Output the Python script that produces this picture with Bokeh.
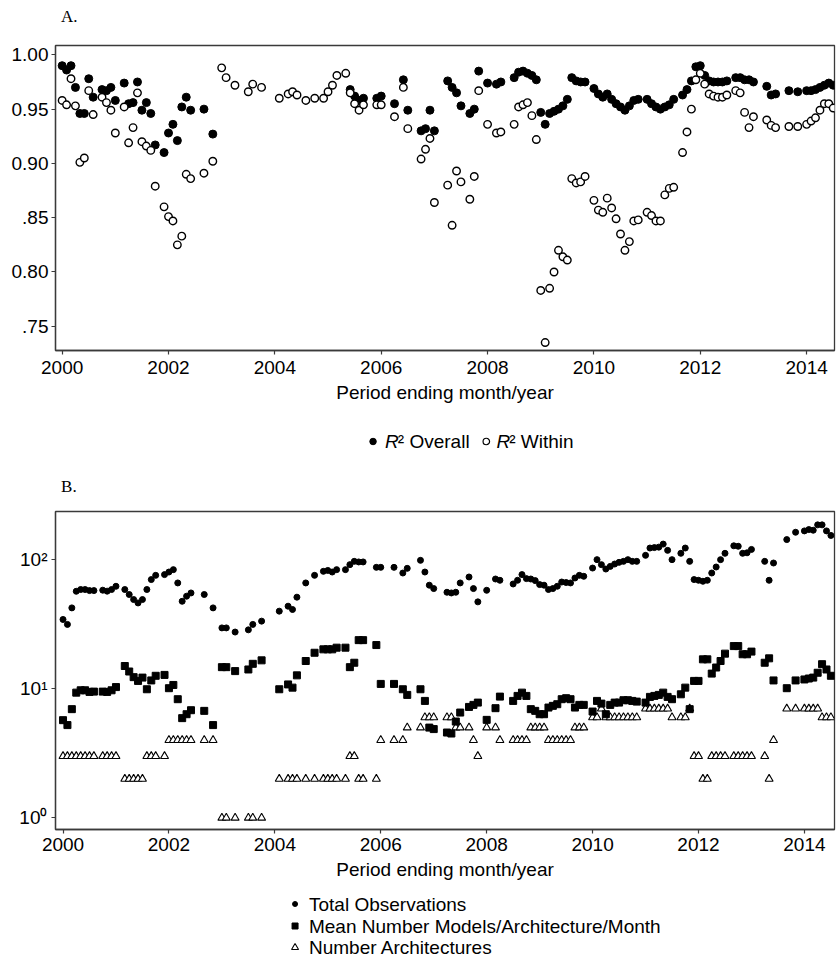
from bokeh.plotting import figure
from bokeh.layouts import column
from bokeh.models import Range1d, FixedTicker
from bokeh.core.properties import value
from bokeh.embed import file_html
from bokeh.resources import INLINE

FONT = "Liberation Sans"
SERIF = "Liberation Serif"

# ---------------- Panel A data (month index since Jan 2000) ----------------
overall_months = [0, 1, 2, 3, 4, 5, 6, 7, 9, 10, 11, 12, 14, 15, 16, 17, 18, 19, 20, 21, 23, 24, 25, 26, 27, 28, 29, 32, 34,
                  65, 66, 67, 68, 71, 72, 75, 77, 78, 81, 82, 83, 84, 87, 88, 89, 90, 92, 93, 94, 96, 98, 99,
                  102, 103, 104, 105, 106, 107, 108, 109, 110, 111, 112, 113, 114, 115, 116, 117, 118,
                  120, 121, 122, 123, 124, 125, 126, 127, 128, 129, 130, 132, 133, 134, 135, 136, 137, 138,
                  140, 141, 142, 143, 144, 145, 146, 147, 148, 149, 150, 152, 153, 154, 155, 156,
                  159, 160, 161, 164, 166, 168, 169, 170, 171, 172, 173, 174]
overall_r2 = [0.990, 0.986, 0.990, 0.970, 0.946, 0.946, 0.978, 0.961, 0.968, 0.967, 0.970, 0.958, 0.974, 0.955, 0.956,
              0.975, 0.949, 0.956, 0.946, 0.917, 0.910, 0.928, 0.936, 0.921, 0.952, 0.961, 0.949, 0.950, 0.927,
              0.968, 0.962, 0.958, 0.960, 0.960, 0.962, 0.955, 0.977, 0.949, 0.930, 0.932, 0.949, 0.930,
              0.976, 0.970, 0.965, 0.953, 0.946, 0.950, 0.985, 0.974, 0.973, 0.975,
              0.979, 0.984, 0.985, 0.983, 0.981, 0.977, 0.947, 0.936, 0.946, 0.948, 0.950, 0.953, 0.959, 0.979,
              0.976, 0.975, 0.975,
              0.969, 0.964, 0.961, 0.964, 0.959, 0.955, 0.952, 0.949, 0.953, 0.958, 0.959, 0.959, 0.955, 0.952,
              0.950, 0.952, 0.954, 0.959,
              0.963, 0.968, 0.976, 0.989, 0.990, 0.981, 0.976, 0.975, 0.975, 0.975, 0.976, 0.979, 0.979, 0.977,
              0.977, 0.975,
              0.971, 0.963, 0.964, 0.967, 0.966, 0.967, 0.967, 0.968, 0.970, 0.972, 0.974, 0.972]

within_months = [0, 1, 2, 3, 4, 5, 6, 7, 9, 10, 11, 12, 14, 15, 16, 17, 18, 19, 20, 21, 23, 24, 25, 26, 27, 28, 29, 32, 34,
                 36, 37, 39, 42, 43, 45, 49, 51, 52, 53, 55, 57, 59, 60, 61, 62, 64,
                 65, 66, 67, 68, 71, 72, 75, 77, 78, 81, 82, 83, 84, 87, 88, 89, 90, 92, 93, 94, 96, 98, 99,
                 102, 103, 104, 105, 106, 107, 108, 109, 110, 111, 112, 113, 114, 115, 116, 117, 118,
                 120, 121, 122, 123, 124, 125, 126, 127, 128, 129, 130, 132, 133, 134, 135, 136, 137, 138,
                 140, 141, 142, 143, 144, 145, 146, 147, 148, 149, 150, 152, 153, 154, 155, 156,
                 159, 160, 161, 164, 166, 168, 169, 170, 171, 172, 173, 174]
within_r2 = [0.958, 0.954, 0.978, 0.953, 0.901, 0.905, 0.967, 0.945, 0.961, 0.956, 0.949, 0.928, 0.952, 0.919, 0.933,
             0.965, 0.920, 0.916, 0.912, 0.879, 0.860, 0.851, 0.847, 0.825, 0.833, 0.890, 0.886, 0.891, 0.902,
             0.988, 0.979, 0.972, 0.966, 0.973, 0.970, 0.960, 0.964, 0.966, 0.963, 0.958, 0.960, 0.960, 0.966,
             0.972, 0.981, 0.983,
             0.965, 0.955, 0.949, 0.954, 0.954, 0.954, 0.943, 0.970, 0.932, 0.904, 0.913, 0.923, 0.864,
             0.880, 0.843, 0.893, 0.883, 0.867, 0.888, 0.967, 0.936, 0.928, 0.929,
             0.936, 0.952, 0.954, 0.956, 0.944, 0.922, 0.783, 0.735, 0.785, 0.800, 0.820, 0.814, 0.811, 0.886,
             0.882, 0.883, 0.888,
             0.866, 0.857, 0.855, 0.868, 0.859, 0.849, 0.835, 0.820, 0.828, 0.847, 0.848, 0.855, 0.852, 0.847,
             0.847, 0.871, 0.877, 0.878,
             0.910, 0.929, 0.950, 0.977, 0.983, 0.973, 0.964, 0.962, 0.961, 0.961, 0.963, 0.967, 0.965, 0.947,
             0.933, 0.943,
             0.940, 0.935, 0.933, 0.934, 0.934, 0.936, 0.939, 0.942, 0.949, 0.955, 0.955, 0.951]

# ---------------- Panel B data ----------------
obs_months = [0, 1, 2, 3, 4, 5, 6, 7, 9, 10, 11, 12, 14, 15, 16, 17, 18, 19, 20, 21, 23, 24, 25, 26, 27, 28, 29, 32, 34,
              36, 37, 39, 42, 43, 45, 49, 51, 52, 53, 55, 57, 59, 60, 61, 62, 64, 65, 66, 67, 68, 71, 72, 75, 77, 78,
              81, 82, 83, 84, 87, 88, 89, 90, 92, 93, 94, 96, 98, 99,
              102, 103, 104, 105, 106, 107, 108, 109, 110, 111, 112, 113, 114, 115, 116, 117, 118,
              120, 121, 122, 123, 124, 125, 126, 127, 128, 129, 130, 132, 133, 134, 135, 136, 137, 138,
              140, 141, 142, 143, 144, 145, 146, 147, 148, 149, 150, 152, 153, 154, 155, 156,
              159, 160, 161, 164, 166, 168, 169, 170, 171, 172, 173, 174]
total_obs = [34.4, 31.5, 42.3, 56.9, 58.7, 58.7, 57.6, 57.6, 58.0, 57.0, 58.7, 62.2, 58.7, 53.7, 49.1, 46.2, 49.1, 58.7,
             70.1, 75.6, 76.6, 80.2, 83.7, 66.0, 47.6, 52.1, 55.2, 53.7, 42.3,
             29.6, 29.6, 27.5, 28.6, 31.5, 33.4, 39.9, 43.6, 41.1, 51.2, 66.0, 75.6, 81.2, 82.5, 80.2, 83.7, 83.7,
             91.5, 97.0, 96.0, 96.0, 87.2, 87.2, 87.2, 78.8, 85.6,
             98.8, 80.2, 63.4, 59.7, 55.9, 55.2, 55.9, 66.0, 73.4, 59.7, 47.1, 57.9, 70.8, 69.2,
             64.8, 69.2, 76.6, 71.3, 70.8, 68.8, 64.1, 63.4, 58.7, 59.7, 62.2, 67.1, 66.5, 66.0, 72.1, 75.6, 74.3,
             86.1, 100, 91.5, 84.6, 88.7, 92.5, 95.3, 97.0, 100, 97.0, 97.0, 108, 123, 124, 125, 132, 118, 100,
             112, 123, 97, 70.1, 69.2, 68.0, 69.2, 78.8, 87.7, 100, 112, 128, 127, 112, 113, 120,
             97, 69.2, 94.2, 143, 163, 167, 171, 169, 186, 186, 167, 154]

models_months = obs_months
mean_models = [5.71, 5.23, 6.95, 9.33, 9.73, 9.73, 9.45, 9.5, 9.5, 9.45, 9.73, 10.3, 15.0, 13.6, 12.3, 11.5, 12.2, 9.91,
               11.6, 12.6, 12.8, 10.1, 10.7, 8.3, 5.92, 6.35, 6.82, 6.74, 5.23,
               14.7, 14.7, 13.7, 14.1, 15.6, 16.6, 9.91, 10.8, 10.2, 12.7, 16.4, 19.0, 20.2, 20.2, 20.2, 20.8, 20.8,
               14.7, 15.9, 23.8, 23.8, 21.8, 10.9, 10.9, 9.91, 8.96,
               9.91, 8.05, 5.0, 4.87, 4.58, 4.5, 5.57, 6.54, 7.23, 7.5, 7.81, 5.74, 7.07, 8.69,
               8.05, 8.8, 9.33, 8.8, 6.95, 6.74, 6.35, 6.35, 7.15, 7.37, 7.59, 8.3, 8.45, 8.3, 7.15, 7.5, 7.5,
               6.66, 8.05, 7.67, 6.35, 7.5, 7.81, 7.81, 8.15, 8.15, 8.05, 7.95, 7.81, 8.65, 8.8, 8.96, 9.33, 8.65, 8.3,
               9.06, 10.2, 6.95, 11.5, 11.5, 16.9, 16.9, 13.1, 14.6, 16.4, 18.7, 21.4, 21.4, 18.5, 18.5, 19.4,
               15.9, 17.2, 11.6, 10.1, 11.6, 11.8, 12.0, 12.2, 13.3, 15.5, 14.1, 12.6]

arch_months = obs_months
num_arch = [3, 3, 3, 3, 3, 3, 3, 3, 3, 3, 3, 3, 2, 2, 2, 2, 2, 3, 3, 3, 3, 4, 4, 4, 4, 4, 4, 4, 4,
            1, 1, 1, 1, 1, 1, 2, 2, 2, 2, 2, 2, 2, 2, 2, 2, 2, 3, 3, 2, 2, 2, 4, 4, 4, 5,
            5, 6, 6, 6, 6, 6, 5, 5, 5, 4, 3, 5, 5, 4,
            4, 4, 4, 4, 5, 5, 5, 5, 4, 4, 4, 4, 4, 4, 5, 5, 5,
            6, 6, 7, 6, 6, 6, 6, 6, 6, 6, 6, 7, 7, 7, 7, 7, 7, 6,
            6, 6, 7, 3, 3, 2, 2, 3, 3, 3, 3, 3, 3, 3, 3, 3,
            3, 2, 4, 7, 7, 7, 7, 7, 7, 6, 6, 6]

year_ticks = [2000, 2002, 2004, 2006, 2008, 2010, 2012, 2014]
r2_ticks = [0.75, 0.80, 0.85, 0.90, 0.95, 1.00]
r2_tick_labels = [".75", "0.80", ".85", "0.90", "0.95", "1.00"]
log_ticks = [1, 10, 100]
log_tick_labels = ["10\u2070", "10\u00b9", "10\u00b2"]

W = 839


def to_year(months):
    return [2000 + m / 12.0 for m in months]


def style(p, label_standoff):
    p.background_fill_color = "white"
    p.border_fill_color = "white"
    p.xgrid.visible = False
    p.ygrid.visible = False
    p.outline_line_color = "#3a3a3a"
    p.outline_line_width = 1.3
    for ax in (p.xaxis[0], p.yaxis[0]):
        ax.axis_line_color = "#3a3a3a"
        ax.axis_line_width = 1.3
        ax.major_tick_line_color = "#3a3a3a"
        ax.major_tick_line_width = 1.2
        ax.major_tick_out = 4
        ax.major_tick_in = 0
        ax.minor_tick_line_color = None
        ax.major_label_text_font = FONT
        ax.major_label_text_font_size = "19px"
        ax.major_label_text_color = "black"
    p.xaxis.major_label_standoff = label_standoff
    p.yaxis.major_label_standoff = 3
    p.xaxis.axis_label = "Period ending month/year"
    p.xaxis.axis_label_text_font = FONT
    p.xaxis.axis_label_text_font_size = "19px"
    p.xaxis.axis_label_text_font_style = "normal"
    p.xaxis.axis_label_text_color = "black"
    p.xaxis.axis_label_standoff = 5
    p.xaxis.ticker = FixedTicker(ticks=year_ticks)


def blank(h):
    p = figure(width=W, height=h, output_backend="svg", toolbar_location=None,
               x_range=Range1d(0, W), y_range=Range1d(h, 0), min_border=0,
               x_axis_location=None, y_axis_location=None)
    p.grid.visible = False
    p.outline_line_color = None
    p.background_fill_color = "white"
    p.border_fill_color = "white"
    return p


def txt(p, x, y, s, size="19px", font=FONT, style_="normal"):
    p.text(x=[x], y=[y], text=[s], text_font=value(font), text_font_size=value(size),
           text_font_style=style_, text_baseline="middle", text_align="left", text_color="black")


# ---------------- header "A." ----------------
headA = blank(44)
txt(headA, 6, 15.5, "A.", size="17px", font=SERIF)

# ---------------- Panel A ----------------
pA = figure(width=W, height=368, output_backend="svg", toolbar_location=None,
            x_range=Range1d(1999.875, 2014.524), y_range=Range1d(0.7277, 1.0086),
            min_border_left=55, min_border_right=0, min_border_top=1, min_border_bottom=62)
style(pA, 6)
pA.yaxis.ticker = FixedTicker(ticks=r2_ticks)
pA.yaxis.major_label_overrides = dict(zip(r2_ticks, r2_tick_labels))

pA.scatter(to_year(overall_months), overall_r2, marker="circle", size=8,
           fill_color="black", line_color="black", line_width=1)
pA.scatter(to_year(within_months), within_r2, marker="circle", size=7.5,
           fill_color="white", line_color="black", line_width=1.4)

# ---------------- legend of A + header "B." ----------------
mid = blank(98)
ly = 29
mid.scatter([342], [ly], marker="circle", size=6.5, fill_color="black", line_color="black")
txt(mid, 355, ly, "R", style_="italic")
txt(mid, 368.7, ly, "\u00b2 Overall")
mid.scatter([464], [ly], marker="circle", size=6.5, fill_color="white", line_color="black", line_width=1.2)
txt(mid, 475, ly, "R", style_="italic")
txt(mid, 488.7, ly, "\u00b2 Within")
txt(mid, 6, 74, "B.", size="17px", font=SERIF)

# ---------------- Panel B ----------------
pB = figure(width=W, height=381, output_backend="svg", toolbar_location=None, y_axis_type="log",
            x_range=Range1d(1999.858, 2014.568), y_range=Range1d(10 ** -0.0903, 10 ** 2.373),
            min_border_left=46, min_border_right=5, min_border_top=1, min_border_bottom=62)
style(pB, 4)
pB.yaxis.ticker = FixedTicker(ticks=log_ticks)
pB.yaxis.major_label_overrides = dict(zip(log_ticks, log_tick_labels))
pB.yaxis.major_label_standoff = 4

pB.scatter(to_year(arch_months), num_arch, marker="triangle", size=8,
           fill_color="white", line_color="black", line_width=1.1)
pB.scatter(to_year(models_months), mean_models, marker="square", size=7,
           fill_color="black", line_color="black", line_width=1)
pB.scatter(to_year(obs_months), total_obs, marker="circle", size=6,
           fill_color="black", line_color="black", line_width=1)

# ---------------- legend of B ----------------
legB = blank(68)
rows = [12.5, 34.5, 56]
legB.scatter([258], [rows[0]], marker="circle", size=5, fill_color="black", line_color="black")
legB.scatter([258], [rows[1]], marker="square", size=6, fill_color="black", line_color="black")
legB.scatter([258], [rows[2]], marker="triangle", size=7, fill_color="white", line_color="black", line_width=1.1)
txt(legB, 273, rows[0], "Total Observations")
txt(legB, 273, rows[1], "Mean Number Models/Architecture/Month")
txt(legB, 273, rows[2], "Number Architectures")

layout = column(headA, pA, mid, pB, legB, spacing=0)
open("out.html", "w").write(file_html(layout, INLINE))
